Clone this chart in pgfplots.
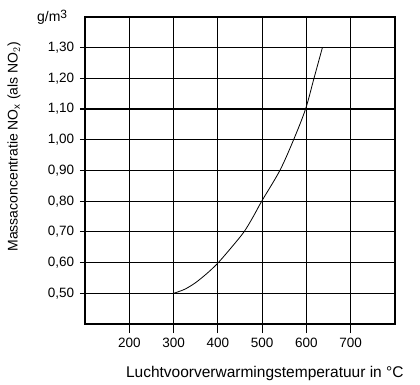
\documentclass[border=0pt]{standalone}
\usepackage{pgfplots}
\pgfplotsset{compat=1.18}
\usepackage{fontspec}
\setmainfont{Liberation Sans}
\begin{document}
\begin{tikzpicture}[x=1pt,y=1pt]
\useasboundingbox (-85,-61) rectangle (335,324);
\begin{axis}[
  at={(0,0)}, anchor=south west,
  scale only axis, width=310pt, height=307pt,
  xmin=100, xmax=800, ymin=0.4, ymax=1.4,
  xtick={200,300,400,500,600,700},
  ytick={0.5,0.6,0.7,0.8,0.9,1.0,1.1,1.2,1.3},
  grid=major,
  major grid style={black, line width=1.2pt},
  axis line style={black, line width=1.2pt},
  tick align=outside,
  xtick pos=bottom, ytick pos=left,
  xtick style={black, line width=1.2pt, /pgfplots/major tick length=9pt},
  ytick style={black, line width=1.2pt, /pgfplots/major tick length=5pt},
  /pgf/number format/assume math mode=true,
  yticklabel style={xshift=-3pt, /pgf/number format/.cd, fixed, fixed zerofill, precision=2, use comma},
  xticklabel style={yshift=-6pt, /pgf/number format/.cd, fixed, 1000 sep={}},
  tick label style={font=\fontsize{13.5}{15}\selectfont},
  xlabel={Luchtvoorverwarmingstemperatuur in °C},
  xlabel style={font=\fontsize{15.5}{17}\selectfont, at={(axis description cs:0.58,-0.16)}, anchor=center},
  ylabel={Massaconcentratie NO$_{\mathrm{x}}$ (als NO$_2$)},
  ylabel style={font=\fontsize{14}{16}\selectfont, at={(axis description cs:-0.229,0.577)}, anchor=center, rotate=0},
  clip=false,
]
\addplot[black, line width=0.8pt, smooth, tension=0.5] coordinates {
  (300,0.50) (325,0.513) (350,0.535) (378,0.568) (401,0.60) (431,0.65) (459,0.70)
  (480,0.75) (499,0.80) (540,0.90) (571,1.00) (598,1.10) (617,1.20) (636,1.30)
};
\node[font=\fontsize{14}{16}\selectfont, anchor=base west, inner sep=0pt] at (axis description cs:-0.155,0.984) {g/m\raisebox{0.45ex}{\fontsize{12}{14}\selectfont 3}};
\end{axis}
\end{tikzpicture}
\end{document}
